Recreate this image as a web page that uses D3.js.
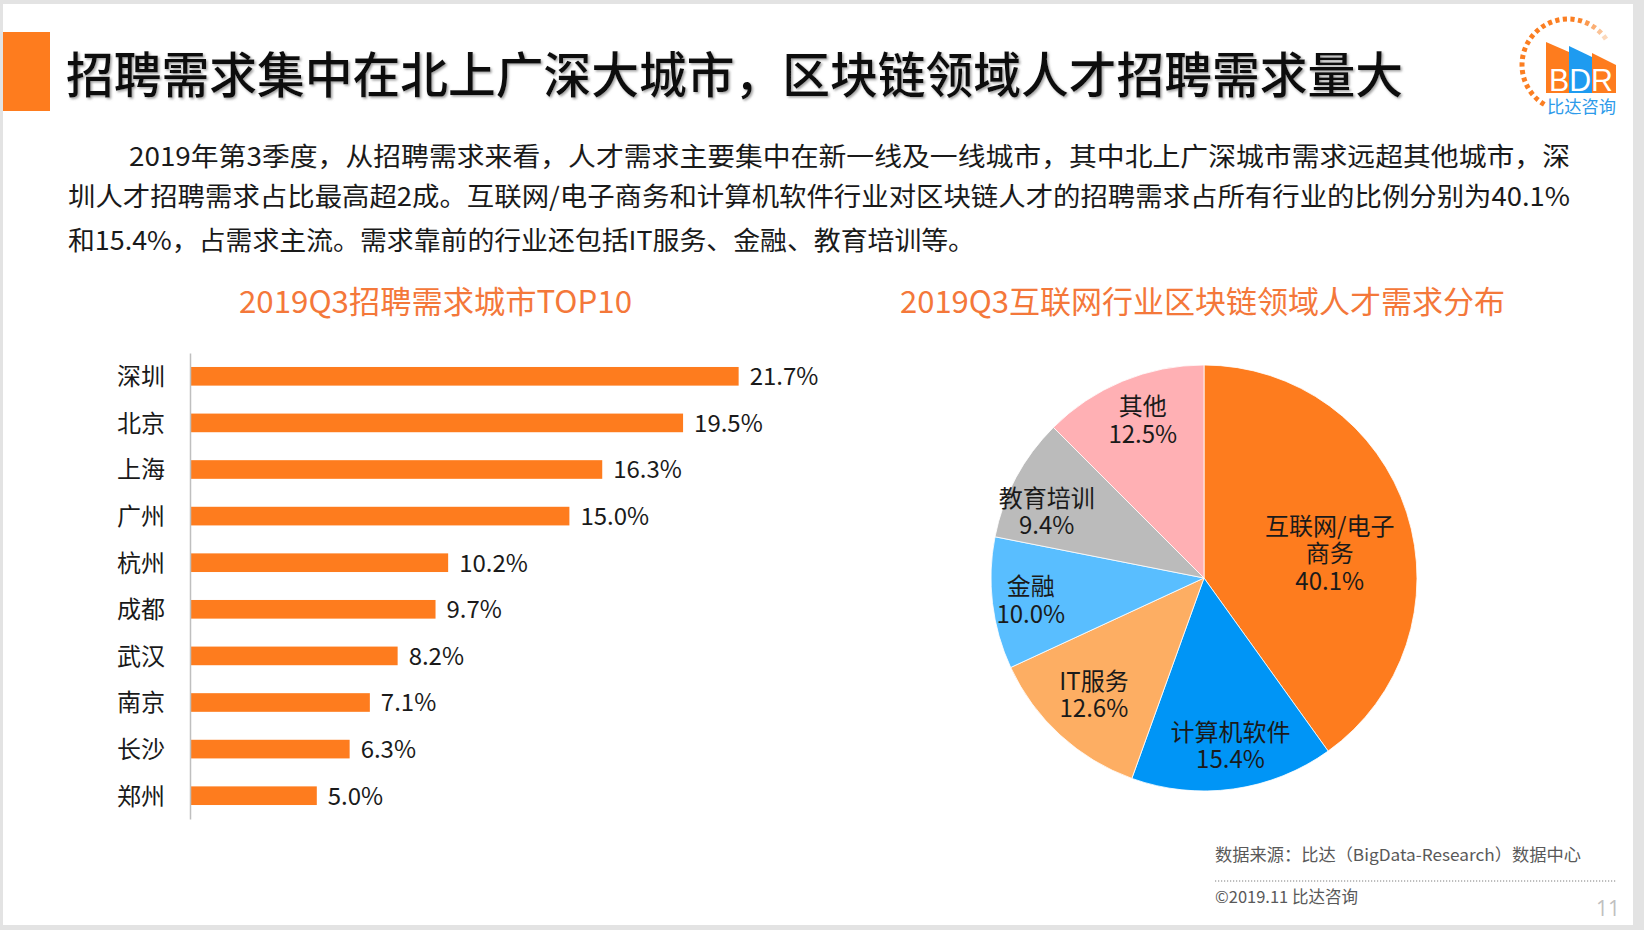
<!DOCTYPE html>
<html><head><meta charset="utf-8">
<script src="https://cdn.jsdelivr.net/npm/d3@7/dist/d3.min.js"></script>
<style>
html,body{margin:0;padding:0;background:#e3e3e3;}
svg{display:block;}
text{font-family:"Noto Sans CJK SC","Noto Sans",sans-serif;}
</style></head>
<body>
<svg id="c" width="1644" height="930"></svg>
<script>
const cities = ["深圳","北京","上海","广州","杭州","成都","武汉","南京","长沙","郑州"];
const cityShares = [21.7,19.5,16.3,15.0,10.2,9.7,8.2,7.1,6.3,5.0];
const industries = ["互联网/电子商务","计算机软件","IT服务","金融","教育培训","其他"];
const industryShares = [40.1,15.4,12.6,10.0,9.4,12.5];
const industryColors = ["#FE7C1E","#0095F6","#FDAE63","#59BEFF","#BBBBBB","#FFB0B4"];
const pageTitle = "招聘需求集中在北上广深大城市，区块链领域人才招聘需求量大";
const paragraphLines = [
  "2019年第3季度，从招聘需求来看，人才需求主要集中在新一线及一线城市，其中北上广深城市需求远超其他城市，深",
  "圳人才招聘需求占比最高超2成。互联网/电子商务和计算机软件行业对区块链人才的招聘需求占所有行业的比例分别为40.1%",
  "和15.4%，占需求主流。需求靠前的行业还包括IT服务、金融、教育培训等。"
];
const barTitle = "2019Q3招聘需求城市TOP10";
const pieTitle = "2019Q3互联网行业区块链领域人才需求分布";
const sourceText = "数据来源：比达（BigData-Research）数据中心";
const copyrightText = "©2019.11 比达咨询";
const pageNumber = "11";

// layout-only label nudges for the pie (px), matching the reference's best-fit placement
const pieLabelNudge = [[0,16],[3,-1],[5,-9],[-4,2],[-7,14],[4,0]];

const svg = d3.select("#c");
const defs = svg.append("defs");
const f = defs.append("filter").attr("id","sh").attr("x","-5%").attr("y","-20%").attr("width","110%").attr("height","140%");
f.append("feDropShadow").attr("dx",1.5).attr("dy",1.5).attr("stdDeviation",0.8).attr("flood-color","#888").attr("flood-opacity",0.8);

// slide
svg.append("rect").attr("x",3).attr("y",4).attr("width",1630).attr("height",921).attr("fill","#fff");

// header
svg.append("rect").attr("x",3).attr("y",32).attr("width",47).attr("height",79).attr("fill","#FE7C1E");
svg.append("text").attr("x",66).attr("y",93).attr("font-size",49).attr("font-weight",500)
  .attr("fill","#111").attr("filter","url(#sh)")
  .attr("textLength",1337).attr("lengthAdjust","spacingAndGlyphs").text(pageTitle);

// logo
const logo = svg.append("g");
const lc = [1568,65], lr = 46;
const arcPath = (a0,a1)=> d3.arc().innerRadius(lr-2.5).outerRadius(lr+2.5).startAngle(a0).endAngle(a1)();
const deg = Math.PI/180;
for (let a = 211; a <= 414; a += 9.5) {
  const col = a < 370 ? "#FB7E22" : d3.interpolateRgb("#FB7E22","#FBE0C8")((a-370)/44);
  logo.append("path").attr("transform",`translate(${lc})`)
    .attr("d", arcPath(a*deg,(a+5.2)*deg)).attr("fill",col);
}
logo.append("polygon").attr("points","1546,42 1569,52 1569,93 1546,93").attr("fill","#FE7C1E");
logo.append("polygon").attr("points","1569,46 1592,57 1592,93 1569,93").attr("fill","#1E9BF0");
logo.append("polygon").attr("points","1592,53 1616,65 1616,93 1592,93").attr("fill","#FE7C1E");
logo.append("text").attr("x",1549).attr("y",91).attr("font-size",31).attr("fill","#fff")
  .style("font-family","'Liberation Sans',Arial,sans-serif").attr("textLength",64).attr("lengthAdjust","spacingAndGlyphs").text("BDR");
logo.append("text").attr("x",1547).attr("y",113).attr("font-size",17).attr("fill","#2E9BEA")
  .attr("textLength",69).attr("lengthAdjust","spacingAndGlyphs").text("比达咨询");

// paragraph
const paraX = [129,68,68], paraW = [1441,1502,907], paraY = [166,206,250];
paragraphLines.forEach((s,i)=>{
  svg.append("text").attr("x",paraX[i]).attr("y",paraY[i]).attr("font-size",26).attr("fill","#1a1a1a")
    .attr("textLength",paraW[i]).attr("lengthAdjust","spacingAndGlyphs").text(s);
});

// chart titles
svg.append("text").attr("x",435.5).attr("y",313).attr("text-anchor","middle").attr("font-size",31)
  .attr("fill","#F4783A").attr("textLength",393).attr("lengthAdjust","spacingAndGlyphs").text(barTitle);
svg.append("text").attr("x",1202.5).attr("y",313).attr("text-anchor","middle").attr("font-size",31)
  .attr("fill","#F4783A").attr("textLength",605).attr("lengthAdjust","spacingAndGlyphs").text(pieTitle);

// bar chart
const x = d3.scaleLinear().domain([0,25]).range([190.5,822]);
const y = d3.scaleBand().domain(cities).range([353,819]).paddingInner(0.6).paddingOuter(0.3);
const barData = cities.map((c,i)=>({c, v:cityShares[i]}));
const bars = svg.append("g");
bars.selectAll("rect").data(barData).join("rect")
  .attr("x",x(0)).attr("y",d=>y(d.c)).attr("width",d=>x(d.v)-x(0)).attr("height",y.bandwidth())
  .attr("fill","#FE7C1E");
bars.selectAll("text.v").data(barData).join("text").attr("class","v")
  .attr("x",d=>x(d.v)+11).attr("y",d=>y(d.c)+y.bandwidth()/2).attr("dy","0.37em")
  .attr("font-size",24).attr("fill","#1a1a1a").text(d=>d.v.toFixed(1)+"%");
const ax = svg.append("g").attr("transform","translate(190,0)")
  .call(d3.axisLeft(y).tickSize(0).tickSizeOuter(0).tickPadding(25));
ax.select(".domain").attr("stroke","#bfbfbf").attr("stroke-width",1.5);
ax.selectAll("text").attr("font-size",24).attr("fill","#1a1a1a")
  .style("font-family","'Noto Sans CJK SC',sans-serif").attr("dy","0.37em");

// pie
const pc = [1204,578], R = 213;
const pieData = industries.map((n,i)=>({n, v:industryShares[i], col:industryColors[i], i}));
const arcs = d3.pie().sort(null).value(d=>d.v)(pieData);
const arc = d3.arc().innerRadius(0).outerRadius(R);
const pg = svg.append("g").attr("transform",`translate(${pc})`);
pg.selectAll("path").data(arcs).join("path").attr("d",arc)
  .attr("fill",d=>d.data.col).attr("stroke","#fff").attr("stroke-width",0.8);
const lab = pg.selectAll("text.l").data(arcs).join("text").attr("class","l")
  .attr("text-anchor","middle").attr("font-size",24).attr("fill","#1a1a1a")
  .attr("transform",d=>{
    const r = d.data.v > 30 ? R*0.62 : R*0.8;
    const c = d3.arc().innerRadius(r).outerRadius(r).centroid(d);
    const n = pieLabelNudge[d.data.i];
    return `translate(${c[0]+n[0]},${c[1]+n[1]})`;
  });
lab.each(function(d){
  const name = d.data.n;
  const lines = name.length > 6 ? [name.slice(0,6), name.slice(6)] : [name];
  lines.push(d.data.v.toFixed(1)+"%");
  const lh = 27.5;
  const t = d3.select(this);
  lines.forEach((s,i)=>{
    t.append("tspan").attr("x",0).attr("y",(i-(lines.length-1)/2)*lh).attr("dy","0.36em").text(s);
  });
});

// footer
svg.append("text").attr("x",1215).attr("y",861).attr("font-size",16.5).attr("fill","#595959")
  .attr("textLength",366).attr("lengthAdjust","spacingAndGlyphs").text(sourceText);
svg.append("line").attr("x1",1215).attr("x2",1617).attr("y1",881).attr("y2",881)
  .attr("stroke","#7f7f7f").attr("stroke-width",1.2).attr("stroke-dasharray","1.2,1.8");
svg.append("text").attr("x",1215).attr("y",903).attr("font-size",16.5).attr("fill","#595959").text(copyrightText);
svg.append("text").attr("x",1620).attr("y",916).attr("text-anchor","end").attr("font-size",21).attr("fill","#c0c0c0")
  .style("font-family","'Open Sans',sans-serif").text(pageNumber);
</script>
</body></html>
